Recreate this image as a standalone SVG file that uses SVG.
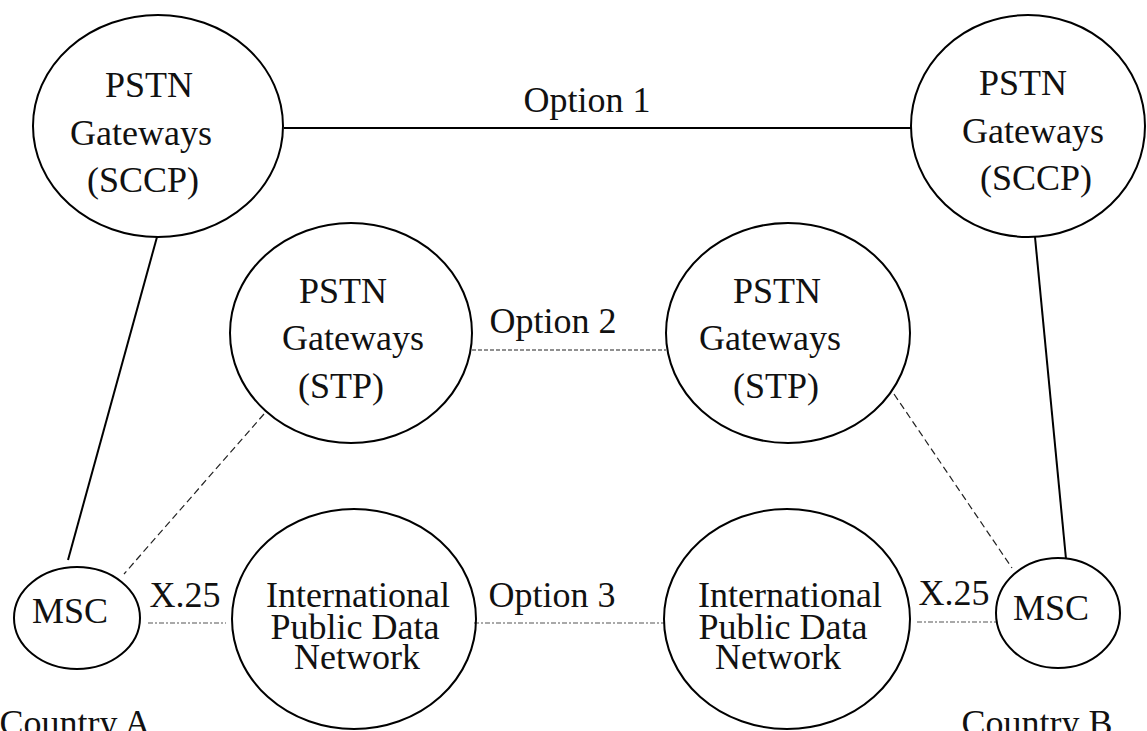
<svg xmlns="http://www.w3.org/2000/svg" width="1147" height="731" viewBox="0 0 1147 731">
<style>
  .node { fill: none; stroke: #000; stroke-width: 2; }
  .t { font-family: "Liberation Serif", "Times New Roman", serif; font-size: 36px; fill: #111; text-anchor: middle; }
  .solid { stroke: #000; stroke-width: 2; fill: none; }
  .dash { stroke: #222; stroke-width: 1.2; stroke-dasharray: 7 4; fill: none; }
  .dash2 { stroke: #222; stroke-width: 1.2; stroke-dasharray: 4 2; fill: none; }
  .dot { stroke: #555; stroke-width: 1.2; stroke-dasharray: 5 2 2 2; fill: none; }
</style>
<rect width="1147" height="731" fill="#fff"/>
<g id="connectors">
  <line class="solid" x1="284" y1="128" x2="911" y2="128"/>
  <line class="solid" x1="157" y1="237" x2="68" y2="560"/>
  <line class="solid" x1="1035" y1="237" x2="1066" y2="559"/>
  <line class="dash2" x1="472" y1="350" x2="666" y2="350"/>
  <line class="dash" x1="264" y1="414" x2="124" y2="574"/>
  <line class="dash" x1="894" y1="394" x2="1012" y2="568"/>
  <line class="dot" x1="148" y1="623" x2="226" y2="623"/>
  <line class="dot" x1="474" y1="623" x2="664" y2="623"/>
  <line class="dot" x1="917" y1="622" x2="996" y2="622"/>
  <text class="t" x="587" y="112">Option 1</text>
  <text class="t" x="553" y="333">Option 2</text>
  <text class="t" x="552" y="607">Option 3</text>
  <text class="t" x="185" y="607">X.25</text>
  <text class="t" x="954" y="605">X.25</text>
</g>
<g id="sccp-a">
  <ellipse class="node" cx="158" cy="126" rx="125" ry="111"/>
  <text class="t" x="149" y="97">PSTN</text>
  <text class="t" x="141" y="145">Gateways</text>
  <text class="t" x="143" y="192">(SCCP)</text>
</g>
<g id="sccp-b">
  <ellipse class="node" cx="1028" cy="126" rx="117" ry="111"/>
  <text class="t" x="1023" y="95">PSTN</text>
  <text class="t" x="1033" y="143">Gateways</text>
  <text class="t" x="1036" y="190">(SCCP)</text>
</g>
<g id="stp-a">
  <ellipse class="node" cx="351" cy="333" rx="121" ry="110"/>
  <text class="t" x="343" y="303">PSTN</text>
  <text class="t" x="353" y="350">Gateways</text>
  <text class="t" x="341" y="398">(STP)</text>
</g>
<g id="stp-b">
  <ellipse class="node" cx="788" cy="333" rx="122" ry="110"/>
  <text class="t" x="777" y="303">PSTN</text>
  <text class="t" x="770" y="350">Gateways</text>
  <text class="t" x="776" y="398">(STP)</text>
</g>
<g id="ipdn-a">
  <ellipse class="node" cx="354" cy="619" rx="122" ry="110"/>
  <text class="t" x="358" y="607">International</text>
  <text class="t" x="355" y="639">Public Data</text>
  <text class="t" x="357" y="669">Network</text>
</g>
<g id="ipdn-b">
  <ellipse class="node" cx="787" cy="619" rx="123" ry="110"/>
  <text class="t" x="790" y="607">International</text>
  <text class="t" x="783" y="639">Public Data</text>
  <text class="t" x="778" y="669">Network</text>
</g>
<g id="msc-a">
  <ellipse class="node" cx="77" cy="618" rx="63" ry="51"/>
  <text class="t" x="70" y="623">MSC</text>
</g>
<g id="msc-b">
  <ellipse class="node" cx="1058" cy="613" rx="62" ry="55"/>
  <text class="t" x="1051" y="620">MSC</text>
</g>
<g id="labels">
  <text class="t" x="75" y="735">Country A</text>
  <text class="t" x="1037" y="735">Country B</text>
</g>
</svg>
